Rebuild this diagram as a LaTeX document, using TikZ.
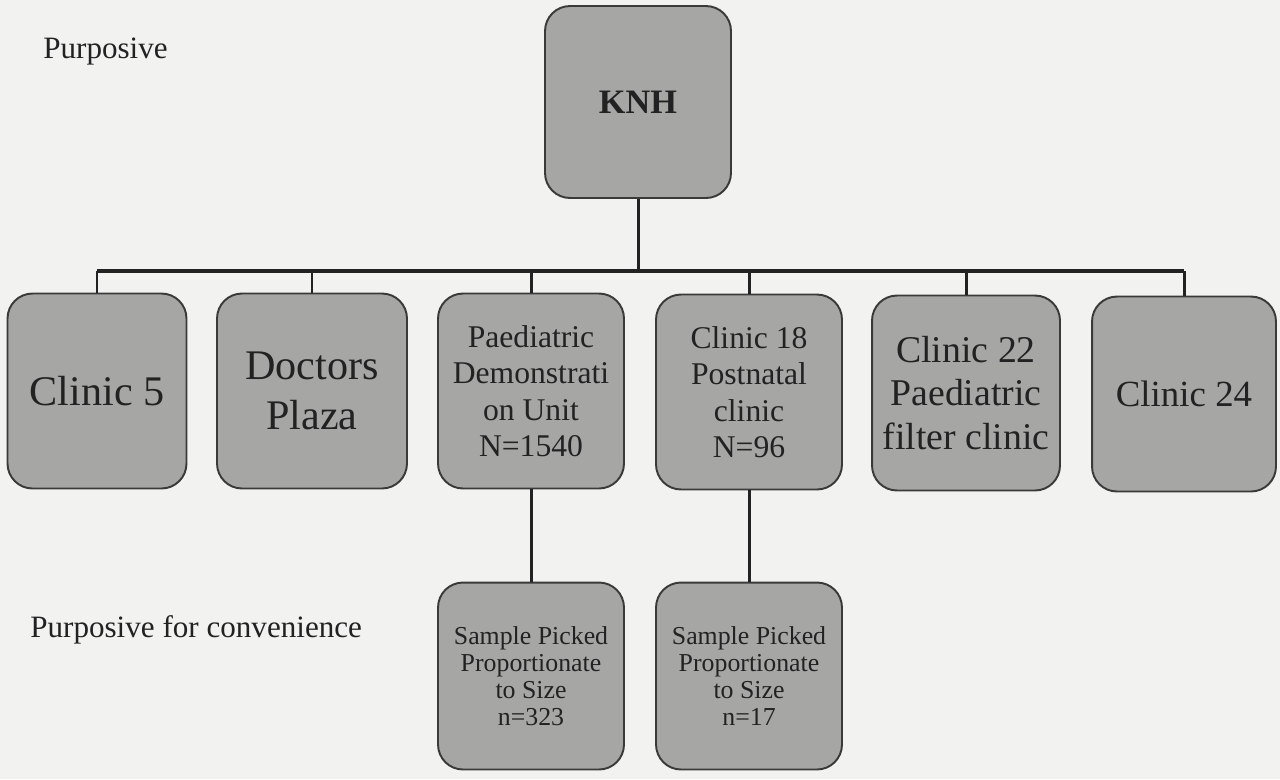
\documentclass[tikz,border=0pt]{standalone}
\usepackage{fontspec}
\setmainfont{Liberation Serif}
\usepackage{tikz}

\definecolor{pagebg}{RGB}{242,242,240}
\definecolor{boxfill}{RGB}{166,166,164}
\definecolor{boxline}{RGB}{58,58,58}
\definecolor{inkc}{RGB}{34,34,34}

\begin{document}
\begin{tikzpicture}[x=0.02cm,y=-0.02cm,
  box/.style={rectangle,rounded corners=0.5cm,draw=boxline,fill=boxfill,line width=1.1pt,
    text=inkc,align=center,inner sep=0pt,minimum width=3.72cm,minimum height=3.9cm},
  drop/.style={draw=inkc,line width=1.7pt},
  busline/.style={draw=inkc,line width=2.8pt},
  lbl/.style={text=inkc,anchor=base west,inner sep=0pt,font=\fontsize{17.7}{20}\selectfont}]

\useasboundingbox[fill=pagebg] (0,0) rectangle (1280,779);

\node[box,minimum height=3.84cm,font=\bfseries\fontsize{19.5}{22}\selectfont] (knh) at (638,102) {KNH};

\node[box,minimum width=3.58cm,font=\fontsize{24}{28.3}\selectfont] (c5) at (97,391) {Clinic 5};
\node[box,minimum width=3.8cm,font=\fontsize{24}{28.3}\selectfont] (dp) at (312,391) {Doctors\\Plaza};
\node[box,font=\fontsize{18}{20.8}\selectfont] (pdu) at (531,391) {Paediatric\\Demonstrati\\on Unit\\N=1540};
\node[box,font=\fontsize{18}{20.8}\selectfont] (c18) at (749,392) {Clinic 18\\Postnatal\\clinic\\N=96};
\node[box,minimum width=3.76cm,font=\fontsize{21.5}{25}\selectfont] (c22) at (966,393) {Clinic 22\\Paediatric\\filter clinic};
\node[box,minimum width=3.68cm,font=\fontsize{21}{24}\selectfont] (c24) at (1184,394) {Clinic 24};

\node[box,minimum height=3.74cm,font=\fontsize{14.7}{15.5}\selectfont] (s1) at (531,676) {Sample Picked\\Proportionate\\to Size\\n=323};
\node[box,minimum height=3.74cm,font=\fontsize{14.7}{15.5}\selectfont] (s2) at (749,676) {Sample Picked\\Proportionate\\to Size\\n=17};

\node[lbl] (l1) at (43,58) {Purposive};
\node[lbl] (l2) at (30,637) {Purposive for convenience};

\coordinate (bus) at (638,271);

\draw[busline] (c5.north |- bus) -- (c24.north |- bus);
\draw[drop] (knh) edge (knh |- bus);
\draw[drop] (c5) edge (c5 |- bus);
\draw[drop] (dp) edge (dp |- bus);
\draw[drop] (pdu) edge (pdu |- bus);
\draw[drop] (c18) edge (c18 |- bus);
\draw[drop] (c22) edge (c22 |- bus);
\draw[drop] (c24) edge (c24 |- bus);
\draw[drop] (pdu) edge (s1);
\draw[drop] (c18) edge (s2);
\end{tikzpicture}
\end{document}
